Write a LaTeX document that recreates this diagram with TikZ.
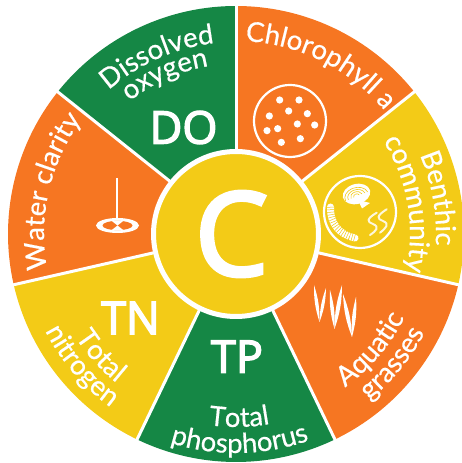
\documentclass[tikz,border=0pt]{standalone}
\usepackage{fontspec}
\usetikzlibrary{decorations.text,calc}
\setmainfont[FakeBold=0.5]{Lato}
\newfontfamily\headfont[FakeBold=3.2]{Open Sans}
\definecolor{wheelorange}{HTML}{F67622}
\definecolor{wheelyellow}{HTML}{F3CB17}
\definecolor{wheelgreen}{HTML}{158745}
\newcommand\lf{\fontsize{27.5}{27.5}\selectfont\color{white}}
\newcommand\arclabel[4]{% mid angle, radius, half span (signed: + clockwise), text
  \path[decorate,decoration={text along path,text align=center,
    text={|\lf|#4}}]
    ({#1+#3}:#2) arc[start angle={#1+#3},end angle={#1-#3},radius=#2];}
\tikzset{
  sector/.style={fill=#1},
  divider/.style={draw=white,line width=3pt},
  headlabel/.style={text=white,inner sep=0pt,font=\headfont\fontsize{45}{45}\selectfont},
  ring/.style={draw=white,line width=2.2pt},
  dot/.style={fill=white},
  blade/.style={fill=white}
}
\begin{document}
\begin{tikzpicture}[x=1pt,y=1pt]
\useasboundingbox (0,0) rectangle (461,463);
\begin{scope}[shift={(236,229)}]
  \def\R{228}
  \fill[sector=wheelgreen]  (0,0) -- (141.43:\R) arc[start angle=141.43,end angle=90,radius=\R] -- cycle;
  \fill[sector=wheelorange] (0,0) -- (90:\R) arc[start angle=90,end angle=38.57,radius=\R] -- cycle;
  \fill[sector=wheelyellow] (0,0) -- (38.57:\R) arc[start angle=38.57,end angle=-12.86,radius=\R] -- cycle;
  \fill[sector=wheelorange] (0,0) -- (-12.86:\R) arc[start angle=-12.86,end angle=-64.29,radius=\R] -- cycle;
  \fill[sector=wheelgreen]  (0,0) -- (-64.29:\R) arc[start angle=-64.29,end angle=-115.71,radius=\R] -- cycle;
  \fill[sector=wheelyellow] (0,0) -- (-115.71:\R) arc[start angle=-115.71,end angle=-167.14,radius=\R] -- cycle;
  \fill[sector=wheelorange] (0,0) -- (-167.14:\R) arc[start angle=-167.14,end angle=-218.57,radius=\R] -- cycle;
  \foreach \a in {90,38.57,-12.86,-64.29,-115.71,-167.14,141.43}
    \draw[divider] (0,0) -- (\a:\R+1);
  \fill[wheelyellow,draw=white,line width=5pt] (0,0) circle[radius=82.5];
  \arclabel{114}{192}{40}{Dissolved}
  \arclabel{114}{170}{40}{oxygen}
  \arclabel{63.5}{193}{40}{Chlorophyll |\lf|a}
  \arclabel{10}{200}{40}{Benthic}
  \arclabel{10}{174}{44}{community}
  \arclabel{-40.5}{188}{-40}{Aquatic}
  \arclabel{-39.5}{213}{-40}{grasses}
  \arclabel{-89}{193}{-30}{Total}
  \arclabel{-89}{219}{-30}{phosphorus}
  \arclabel{222}{191}{-30}{Total}
  \arclabel{220.5}{214}{-30}{nitrogen}
  \arclabel{167}{192}{40}{Water |\lf|clarity}
\end{scope}
\begin{scope}[shift={(0,463)},y=-1pt]
  \node[headlabel] (do) at (183.5,127.5) {DO};
  \node[headlabel] (tn) at (130.5,318) {TN};
  \node[headlabel] (tp) at (237,356.7) {TP};
  \node[text=white,inner sep=0pt,font=\headfont\fontsize{116}{116}\selectfont] (c) at (231.5,234) {C};
  % chlorophyll icon
  \draw[ring] (290,121) circle[radius=36];
  \foreach \x/\y in {119/300,177/300,146/333,202/341,88/348,172/372,224/375,113/386,81/392,124/427,181/416}
    \fill[dot] ({240+\x/3},{\y/3}) circle[radius=3.6];
  % benthic icon
  \draw[ring] (360,212) circle[radius=36];
  \fill[white,rotate around={15:(356.5,194)}] (356.5,194) ellipse[x radius=14,y radius=10];
  \fill[white] (358,200) -- (370,203) -- (362,208.5) -- cycle;
  \foreach \r in {3,6,9,12}
    \draw[wheelyellow,line width=.6pt,rotate around={15:(356.5,196)}] (356.5,196) ++(170:\r) arc[start angle=170,end angle=350,x radius=\r,y radius={.75*\r}];
  \draw[white,line width=7pt,line cap=round] (330.5,207) .. controls (330,224) and (340,235) .. (355,238);
  \draw[wheelyellow,line width=7.4pt,dash pattern=on .5pt off 2pt] (330.5,207) .. controls (330,224) and (340,235) .. (355,238);
  \draw[white!85!wheelyellow,line width=2pt,line cap=round] (376.7,212.7) .. controls (366,219) and (367,222) .. (373,224) .. controls (380,227) and (376,231) .. (370,235);
  \draw[white!85!wheelyellow,line width=2pt,line cap=round] (386.7,209.3) .. controls (376,216) and (377,219) .. (383,221) .. controls (390,224) and (386,228) .. (380,232.7);
  % aquatic grasses icon
  \foreach \ax/\ay/\bx/\by in {314/285/319.5/322, 326/288/319.5/322, 330/290/334.5/329, 342/285/334.5/329, 343/294/352/337, 356/297/352/337}
    \fill[blade] (\ax,\ay) to[bend left=9] (\bx,\by) to[bend left=9] (\ax,\ay);
  % water clarity (Secchi disc) icon
  \draw[white,line width=1.4pt] (117,178) -- (117,225);
  \fill[white] (117.5,225.5) ellipse[x radius=21.5,y radius=7.5];
  \fill[wheelorange] (117.5,225.5) ellipse[x radius=15,y radius=4.6];
  \begin{scope}
    \clip (117.5,225.5) ellipse[x radius=15,y radius=4.6];
    \fill[white] (117.5,225.5) -- (108,218) -- (127,218) -- cycle;
    \fill[white] (117.5,225.5) -- (108,233) -- (127,233) -- cycle;
  \end{scope}
\end{scope}
\end{tikzpicture}
\end{document}
